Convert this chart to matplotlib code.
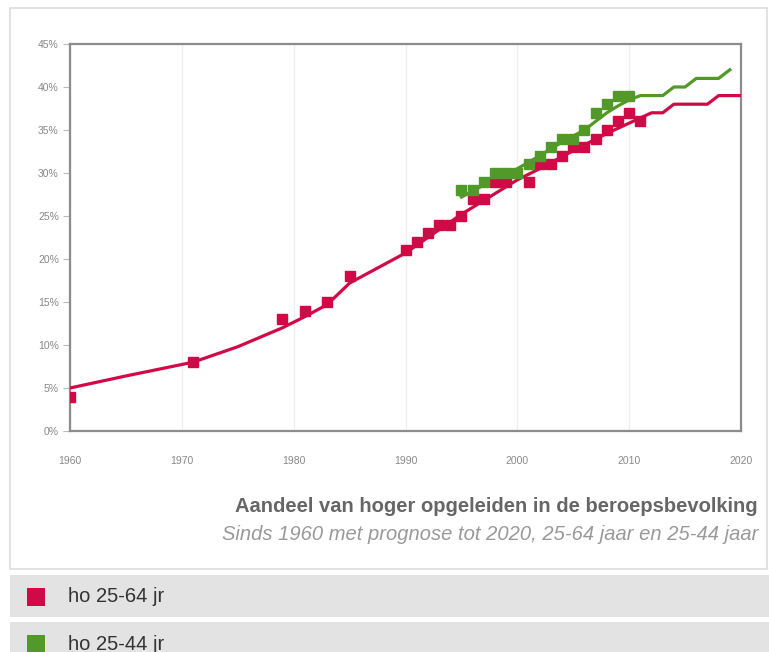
import matplotlib
matplotlib.use("Agg")
import matplotlib.pyplot as plt
from matplotlib.patches import Rectangle

# Measured shares (%), ho 25-64 jr
years_64 = [1960, 1971, 1979, 1981, 1983, 1985, 1990, 1991, 1992, 1993, 1994,
            1995, 1996, 1997, 1998, 1999, 2001, 2002, 2003, 2004, 2005, 2006,
            2007, 2008, 2009, 2010, 2011]
share_64 = [4, 8, 13, 14, 15, 18, 21, 22, 23, 24, 24,
            25, 27, 27, 29, 29, 29, 31, 31, 32, 33, 33,
            34, 35, 36, 37, 36]

# Measured shares (%), ho 25-44 jr
years_44 = [1995, 1996, 1997, 1998, 1999, 2000, 2001, 2002, 2003, 2004,
            2005, 2006, 2007, 2008, 2009, 2010]
share_44 = [28, 28, 29, 30, 30, 30, 31, 32, 33, 34,
            34, 35, 37, 38, 39, 39]

# Trend + forecast lines
trend_years_64 = [1960, 1965, 1971, 1975, 1979, 1981, 1983, 1985, 1988, 1990,
                  1995, 2000, 2002, 2005, 2008, 2010, 2011, 2012, 2013, 2014,
                  2017, 2018, 2020]
trend_64 = [5.0, 6.4, 8.0, 9.8, 12.0, 13.3, 14.7, 17.2, 19.3, 20.7,
            25.2, 29.2, 30.5, 32.6, 34.6, 35.8, 36.4, 37.0, 37.0, 38.0,
            38.0, 39.0, 39.0]
trend_years_44 = [1995, 1997, 1999, 2000, 2002, 2004, 2006, 2008, 2009, 2010,
                  2011, 2013, 2014, 2015, 2016, 2018, 2019]
trend_44 = [27.2, 28.6, 29.8, 30.5, 32.0, 33.6, 35.0, 37.0, 37.8, 38.5,
            39.0, 39.0, 40.0, 40.0, 41.0, 41.0, 42.0]

x_ticks = [1960, 1970, 1980, 1990, 2000, 2010, 2020]
y_ticks = [0, 5, 10, 15, 20, 25, 30, 35, 40, 45]

title = "Aandeel van hoger opgeleiden in de beroepsbevolking"
subtitle = "Sinds 1960 met prognose tot 2020, 25-64 jaar en 25-44 jaar"
labels = ["ho 25-64 jr", "ho 25-44 jr"]

RED = "#cf0a47"
GREEN = "#52992a"

plt.rcParams["font.family"] = ["Liberation Sans", "DejaVu Sans"]

W, H = 769, 652
fig = plt.figure(figsize=(W / 100, H / 100), dpi=100)
fig.patch.set_facecolor("white")

def fx(px):
    return px / W

def fy(py):
    return 1 - py / H

# outer panel frame
fig.patches.append(Rectangle((fx(10), fy(569)), fx(757), 561 / H,
                             transform=fig.transFigure, fill=False,
                             edgecolor="#dddddd", linewidth=1.2))

ax = fig.add_axes([fx(70), fy(431), fx(741 - 70), (431 - 44) / H])
ax.plot(trend_years_64, trend_64, color=RED, lw=2.3, zorder=3)
ax.plot(trend_years_44, trend_44, color=GREEN, lw=2.3, zorder=3)
ax.plot(years_64, share_64, ls="none", marker="s", ms=7.5, color=RED, zorder=4)
ax.plot(years_44, share_44, ls="none", marker="s", ms=7.5, color=GREEN, zorder=4)

ax.set_xlim(1960, 2020)
ax.set_ylim(0, 45)
ax.set_xticks(x_ticks)
ax.set_yticks(y_ticks)
ax.set_yticklabels([f"{v}%" for v in y_ticks])
ax.grid(axis="x", color="#eeeeee", lw=1)
ax.set_axisbelow(True)
for s in ax.spines.values():
    s.set_color("#8c8c8c")
    s.set_linewidth(1.6)
ax.tick_params(axis="y", length=5, width=0.8, color="#bbbbbb",
               labelsize=7.5, labelcolor="#888888", pad=3)
ax.tick_params(axis="x", length=0, labelsize=7.5, labelcolor="#888888", pad=18)

fig.text(fx(758), fy(507), title, ha="right", va="center",
         fontsize=14.5, fontweight="bold", color="#666666")
fig.text(fx(758), fy(535), subtitle, ha="right", va="center",
         fontsize=14.5, style="italic", color="#999999")

# legend rows
rows = [(575, 617), (622, 652)]
for (top, bot), lab, col in zip(rows, labels, [RED, GREEN]):
    fig.patches.append(Rectangle((fx(10), fy(bot)), fx(759), (bot - top) / H,
                                 transform=fig.transFigure, facecolor="#e3e3e3",
                                 edgecolor="none"))
    mid = top + 22
    fig.patches.append(Rectangle((fx(27), fy(mid + 9)), fx(18), 18 / H,
                                 transform=fig.transFigure, facecolor=col,
                                 edgecolor="none"))
    fig.text(fx(68), fy(mid), lab, ha="left", va="center",
             fontsize=14.5, color="#333333")

fig.savefig("out.png", dpi=100)
